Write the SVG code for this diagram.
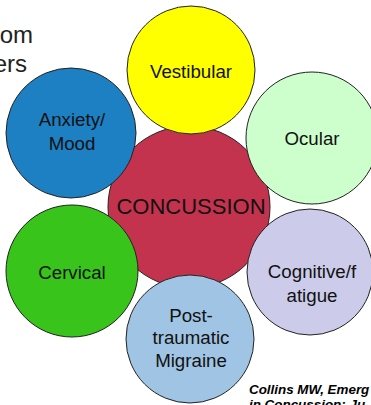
<svg xmlns="http://www.w3.org/2000/svg" width="371" height="405" viewBox="0 0 371 405">
<style>
.c{stroke:#222;stroke-width:1}
.t{font-family:"Liberation Sans",Arial,sans-serif;font-size:18.7px;fill:#111;text-anchor:middle}
.big{font-family:"Liberation Sans",Arial,sans-serif;font-size:22px;fill:#111;text-anchor:middle}
.h{font-family:"Liberation Sans",Arial,sans-serif;font-size:24px;fill:#222;text-anchor:end}
.ref{font-family:"Liberation Sans",Arial,sans-serif;font-size:13.4px;font-weight:bold;font-style:italic;fill:#000}
</style>
<rect width="371" height="405" fill="#fff"/>
<text class="h" x="33" y="43">om</text>
<text class="h" x="27" y="72">ers</text>
<g id="connectors"></g>
<g id="concussion"><circle class="c" cx="189" cy="207" r="81" fill="#c3334e"/><text class="big" x="191" y="214">CONCUSSION</text></g>
<g id="vestibular"><circle class="c" cx="191" cy="70" r="64" fill="#ffff00"/><text class="t" x="191" y="78">Vestibular</text></g>
<g id="ocular"><circle class="c" cx="312" cy="138" r="66" fill="#ccffcc"/><text class="t" x="312" y="145">Ocular</text></g>
<g id="cognitive"><circle class="c" cx="310" cy="272" r="63" fill="#ccccea"/><text class="t" x="312" y="278">Cognitive/f</text><text class="t" x="312" y="302">atigue</text></g>
<g id="migraine"><circle class="c" cx="190" cy="339" r="64" fill="#a0c4e3"/><text class="t" x="191" y="322">Post-</text><text class="t" x="191" y="344">traumatic</text><text class="t" x="191" y="367">Migraine</text></g>
<g id="cervical"><circle class="c" cx="72" cy="271" r="66" fill="#38c41b"/><text class="t" x="72" y="279">Cervical</text></g>
<g id="anxiety"><circle class="c" cx="71" cy="133" r="65" fill="#1c80c3"/><text class="t" x="72" y="126">Anxiety/</text><text class="t" x="72" y="150">Mood</text></g>
<text class="ref" x="249" y="394">Collins MW, Emerg</text>
<text class="ref" x="249" y="409">in Concussion: Ju</text>
</svg>
